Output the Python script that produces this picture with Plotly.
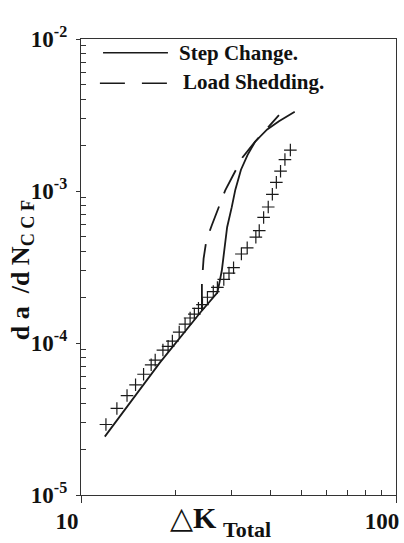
import plotly.graph_objects as go

# ---- data ----
exp_dk = [12.0, 13.0, 14.0, 14.9, 15.8, 16.7, 17.2, 18.2, 18.9, 19.5, 20.5, 21.4,
          22.2, 22.9, 23.6, 24.3, 25.2, 26.3, 27.1, 28.4, 29.5, 30.5, 32.3, 33.7,
          35.9, 36.8, 38.0, 39.3, 40.5, 41.7, 43.0, 44.4, 46.2]
exp_rate = [2.91e-5, 3.71e-5, 4.51e-5, 5.31e-5, 6.23e-5, 7.19e-5, 7.71e-5, 8.99e-5,
            9.51e-5, 1.03e-4, 1.18e-4, 1.33e-4, 1.46e-4, 1.55e-4, 1.69e-4, 1.79e-4,
            2.00e-4, 2.18e-4, 2.32e-4, 2.62e-4, 2.88e-4, 3.13e-4, 3.85e-4, 4.23e-4,
            4.97e-4, 5.49e-4, 6.70e-4, 7.85e-4, 9.51e-4, 1.14e-3, 1.35e-3, 1.61e-3,
            1.86e-3]

step_dk = [11.9, 17.8, 24.0, 27.1, 27.6, 28.0, 28.5, 29.1, 30.1, 30.9, 32.2, 33.8,
           35.7, 39.0, 42.5, 47.7]
step_rate = [2.42e-5, 7.43e-5, 1.60e-4, 2.15e-4, 2.58e-4, 3.01e-4, 4.07e-4, 5.78e-4,
             7.83e-4, 1.02e-3, 1.38e-3, 1.73e-3, 2.11e-3, 2.54e-3, 2.88e-3, 3.32e-3]

shed_dk = [24.2, 24.2, 24.5, 25.0, 26.0, 27.3, 28.7, 30.4, 32.6, 35.5, 39.0, 42.5]
shed_rate = [1.65e-4, 2.49e-4, 3.59e-4, 4.72e-4, 5.93e-4, 7.80e-4, 1.01e-3, 1.27e-3,
             1.67e-3, 2.08e-3, 2.58e-3, 3.16e-3]

x_tickvals = [10, 100]
x_ticktext = ["10", "100"]
x_minor = [20, 30, 40, 50, 60, 70, 80, 90]
y_tickvals = [1e-5, 1e-4, 1e-3, 1e-2]
y_ticktext = ["10<sup>-5</sup>", "10<sup>-4</sup>", "10<sup>-3</sup>", "10<sup>-2</sup>"]
y_minor = [m * 10.0 ** e for e in (-5, -4, -3) for m in range(2, 10)]

legend_labels = ["Step Change.", "Load Shedding."]

INK = "#1a1a1a"
SERIF = "Liberation Serif"

fig = go.Figure()
fig.add_trace(go.Scatter(x=step_dk, y=step_rate, mode="lines",
                         line=dict(color=INK, width=1.8), name=legend_labels[0]))
fig.add_trace(go.Scatter(x=shed_dk, y=shed_rate, mode="lines",
                         line=dict(color=INK, width=1.8, dash="26px,14px"),
                         name=legend_labels[1]))
fig.add_trace(go.Scatter(x=exp_dk, y=exp_rate, mode="markers",
                         marker=dict(symbol="cross-thin", size=9,
                                     line=dict(color=INK, width=1.2)),
                         name="Experiment"))

axis_common = dict(showline=True, linecolor="#333", linewidth=1.3, mirror=True,
                   showgrid=False, zeroline=False, tickcolor="#333", automargin=False,
                   tickfont=dict(family=SERIF, size=23, color="#111", weight="bold"))

fig.update_xaxes(type="log", range=[1, 2], tickmode="array", tickvals=x_tickvals,
                 ticktext=x_ticktext, ticks="outside", ticklen=7,
                 ticklabelshift=-14, ticklabelstandoff=-2,
                 minor=dict(tickvals=x_minor, ticks="inside", ticklen=5, tickcolor="#333"),
                 **axis_common)
fig.update_yaxes(type="log", range=[-5, -2], tickmode="array", tickvals=y_tickvals,
                 ticktext=y_ticktext, ticks="outside", ticklen=4, ticklabelstandoff=4,
                 minor=dict(tickvals=y_minor, ticks="inside", ticklen=5, tickcolor="#333"),
                 **axis_common)

# legend drawn inside the frame (long samples like the original)
fig.add_shape(type="line", xref="paper", yref="paper", x0=0.070, x1=0.276, y0=0.970, y1=0.970,
              line=dict(color=INK, width=1.6))
fig.add_shape(type="line", xref="paper", yref="paper", x0=0.060, x1=0.273, y0=0.903, y1=0.903,
              line=dict(color=INK, width=1.6, dash="25px,17px"))
fig.add_annotation(text="<b>" + legend_labels[0] + "</b>", xref="paper", yref="paper",
                   x=0.305, y=0.969, xanchor="left", yanchor="middle", showarrow=False,
                   font=dict(family=SERIF, size=21, color="#111"))
fig.add_annotation(text="<b>" + legend_labels[1] + "</b>", xref="paper", yref="paper",
                   x=0.318, y=0.906, xanchor="left", yanchor="middle", showarrow=False,
                   font=dict(family=SERIF, size=21, color="#111"))

# axis titles
fig.add_annotation(text="<b>d a  /d N<sub>C C F</sub></b>", xref="paper", yref="paper",
                   x=-0.187, y=0.493, xanchor="center", yanchor="middle", textangle=-90,
                   showarrow=False, font=dict(family=SERIF, size=26, color="#111"))
fig.add_annotation(text="△<b>K</b>", xref="paper", yref="paper",
                   x=0.358, y=-0.050, xanchor="center", yanchor="middle",
                   showarrow=False, font=dict(family=SERIF, size=30, color="#111"))
fig.add_annotation(text="<b>Total</b>", xref="paper", yref="paper",
                   x=0.445, y=-0.075, xanchor="left", yanchor="middle",
                   showarrow=False, font=dict(family=SERIF, size=22, color="#111"))

fig.update_layout(width=404, height=543, margin=dict(l=81, r=8, t=39, b=48),
                  paper_bgcolor="white", plot_bgcolor="white", showlegend=False)

fig.write_html("out.html", config={"displayModeBar": False},
               post_script="document.body.style.margin='0';document.body.style.overflow='hidden';")
